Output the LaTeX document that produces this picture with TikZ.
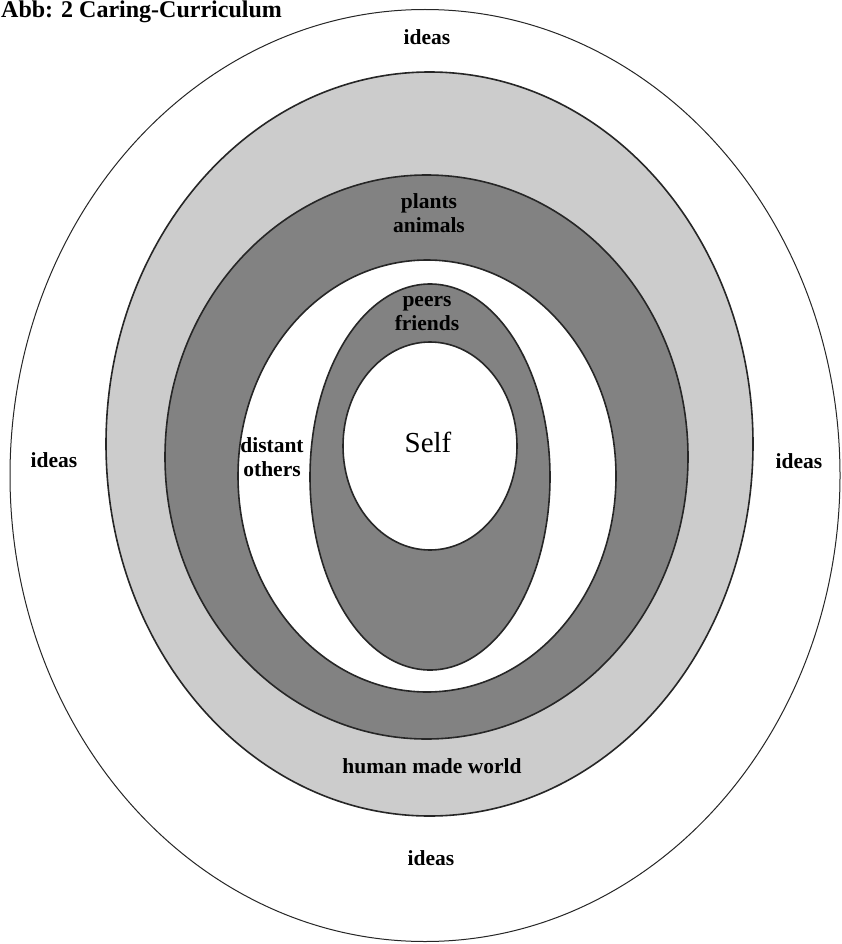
\documentclass[tikz,border=0pt]{standalone}
\usepackage{fontspec}
\setmainfont{Liberation Serif}
\usetikzlibrary{positioning}
\definecolor{ringLight}{RGB}{204,204,204}
\definecolor{ringDark}{RGB}{130,130,130}
\tikzset{
  outerline/.style={draw=black!85, line width=1pt, fill=white},
  ring/.style={draw=black!85, line width=1.6pt},
  lightring/.style={ring, fill=ringLight},
  darkring/.style={ring, fill=ringDark},
  whitering/.style={ring, fill=white},
  ringtext/.style={font=\bfseries\fontsize{21.5}{24}\selectfont, align=center, inner sep=0pt},
  selftext/.style={font=\fontsize{29}{32}\selectfont, inner sep=0pt},
  titletext/.style={font=\bfseries\fontsize{24}{28}\selectfont, inner sep=0pt}
}

\begin{document}
\begin{tikzpicture}[x=1pt, y=-1pt]
\useasboundingbox (0,0) rectangle (841,944);
% rings, from the outside in
\draw[outerline] (425,475.5) ellipse [x radius=415pt, y radius=466pt];
\draw[lightring] (429.5,444) ellipse [x radius=323.5pt, y radius=372pt];
\draw[darkring] (426.5,457) ellipse [x radius=261.5pt, y radius=282pt];
\draw[whitering] (427,476) ellipse [x radius=189pt, y radius=216pt];
\draw[darkring] (430,477) ellipse [x radius=120pt, y radius=193pt];
\draw[whitering] (430,446) ellipse [x radius=87pt, y radius=104pt];

\node[titletext, anchor=base west] (title) at (1,18) {Abb: 2 Caring-Curriculum};

\node[ringtext, anchor=base] (ideastop) at (427,45) {ideas};
\node[ringtext, anchor=base] (ideasleft) at (54,467) {ideas};
\node[ringtext, anchor=base] (ideasright) at (799,468) {ideas};
\node[ringtext, anchor=base] (ideasbottom) at (431,865) {ideas};
\node[ringtext, anchor=base] (humanworld) at (432,773) {human made world};
% two-line labels: base is the last line
\node[ringtext, anchor=base] (plants) at (429,232) {plants\\animals};
\node[ringtext, anchor=base] (peers) at (427,330) {peers\\friends};
\node[ringtext, anchor=base] (distant) at (272,476) {distant\\others};
\node[selftext, anchor=base] (self) at (428,452) {Self};
\end{tikzpicture}
\end{document}
